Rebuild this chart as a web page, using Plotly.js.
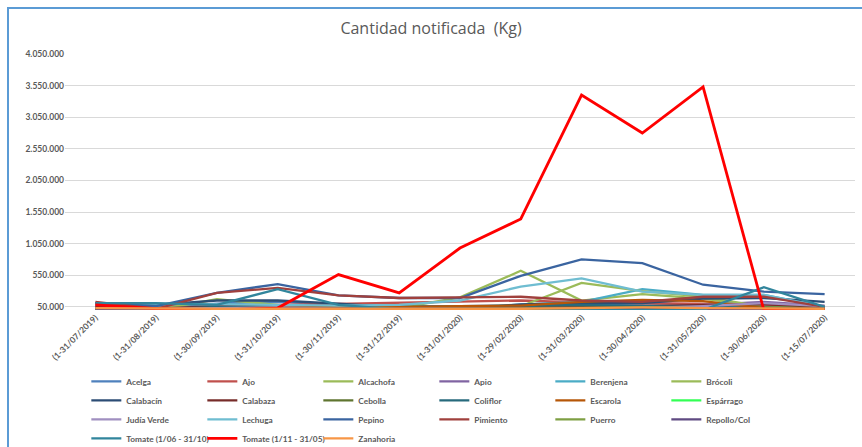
<!DOCTYPE html>
<html>
<head>
<meta charset="utf-8">
<script src="https://cdn.plot.ly/plotly-3.0.1.min.js"></script>
<style>
html,body{margin:0;padding:0;background:#fff;}
#wrap{position:relative;width:862px;height:447px;overflow:hidden;}
#chart{width:862px;height:447px;}
#frame{position:absolute;left:7px;top:7px;width:900px;height:500px;border-left:2px solid #5B9BD5;border-top:2px solid #5B9BD5;pointer-events:none;}
</style>
</head>
<body>
<div id="wrap"><div id="chart"></div><div id="frame"></div></div>
<script>
const categories = ["(1-31/07/2019)","(1-31/08/2019)","(1-30/09/2019)","(1-31/10/2019)","(1-30/11/2019)","(1-31/12/2019)","(1-31/01/2020)","(1-29/02/2020)","(1-31/03/2020)","(1-30/04/2020)","(1-31/05/2020)","(1-30/06/2020)","(1-15/07/2020)"];

const acelga      = [100000, 40000, 100000, 130000, 90000, 60000, 60000, 80000, 90000, 70000, 60000, 60000, 50000];
const ajo         = [60000, 30000, 60000, 80000, 90000, 120000, 140000, 150000, 120000, 110000, 100000, 90000, 40000];
const alcachofa   = [0, 0, 0, 0, 0, 30000, 200000, 620000, 150000, 250000, 180000, 50000, 0];
const apio        = [40000, 20000, 20000, 30000, 30000, 20000, 20000, 30000, 40000, 40000, 80000, 130000, 70000];
const berenjena   = [60000, 40000, 40000, 50000, 30000, 20000, 40000, 80000, 130000, 330000, 240000, 240000, 50000];
const brocoli     = [20000, 0, 170000, 80000, 40000, 20000, 60000, 60000, 430000, 300000, 210000, 50000, 30000];
const calabacin   = [100000, 80000, 150000, 150000, 100000, 40000, 10000, 90000, 110000, 110000, 180000, 190000, 130000];
const calabaza    = [50000, 20000, 60000, 70000, 50000, 30000, 30000, 40000, 60000, 60000, 80000, 90000, 50000];
const cebolla     = [10000, 0, 0, 10000, 10000, 0, 0, 10000, 20000, 20000, 30000, 40000, 30000];
const coliflor    = [20000, 10000, 50000, 60000, 70000, 50000, 50000, 60000, 80000, 60000, 40000, 30000, 20000];
const escarola    = [10000, 10000, 20000, 40000, 40000, 50000, 60000, 70000, 130000, 160000, 140000, 30000, 20000];
const esparrago   = [0, 0, 0, 0, 0, 0, 0, 0, 10000, 20000, 10000, 0, 0];
const judiaVerde  = [30000, 20000, 30000, 40000, 20000, 10000, 10000, 10000, 20000, 30000, 60000, 110000, 60000];
const lechuga     = [110000, 100000, 90000, 80000, 70000, 80000, 150000, 370000, 500000, 290000, 240000, 240000, 50000];
const pepino      = [110000, 60000, 270000, 410000, 230000, 190000, 190000, 540000, 800000, 740000, 400000, 290000, 250000];
const pimiento    = [130000, 20000, 270000, 350000, 230000, 190000, 200000, 210000, 150000, 130000, 210000, 210000, 50000];
const puerro      = [10000, 10000, 20000, 20000, 20000, 20000, 20000, 30000, 40000, 40000, 30000, 20000, 20000];
const repolloCol  = [20000, 10000, 10000, 20000, 20000, 10000, 10000, 10000, 10000, 10000, 10000, 10000, 20000];
const tomateVer   = [110000, 110000, 80000, 330000, 80000, 10000, 0, 0, 0, 0, 0, 360000, 50000];
const tomateInv   = [80000, 20000, 0, 30000, 560000, 270000, 980000, 1440000, 3400000, 2800000, 3530000, 0, 0];
const zanahoria   = [30000, 20000, 20000, 20000, 20000, 20000, 10000, 20000, 30000, 40000, 30000, 20000, 20000];

const seriesNames = ["Acelga","Ajo","Alcachofa","Apio","Berenjena","Brócoli","Calabacín","Calabaza","Cebolla","Coliflor","Escarola","Espárrago","Judía Verde","Lechuga","Pepino","Pimiento","Puerro","Repollo/Col","Tomate (1/06 - 31/10)","Tomate (1/11 - 31/05)","Zanahoria"];
const seriesValues = [acelga, ajo, alcachofa, apio, berenjena, brocoli, calabacin, calabaza, cebolla, coliflor, escarola, esparrago, judiaVerde, lechuga, pepino, pimiento, puerro, repolloCol, tomateVer, tomateInv, zanahoria];
const seriesColors = ["#4F81BD","#C0504D","#9BBB59","#8064A2","#4BACC6","#9BBB59","#2C4D75","#772C2A","#5F7530","#276A7C","#B65708","#33FF55","#A08FC0","#6FBDD1","#3A64A0","#A0403D","#7E9F43","#5F4A82","#31859C","#FF0000","#F79646"];

const traces = seriesNames.map((n, i) => ({
  type: 'scatter', mode: 'lines', name: n,
  x: categories, y: seriesValues[i],
  line: {color: seriesColors[i], width: (n === "Tomate (1/11 - 31/05)") ? 2.8 : 2.3}
}));

const yTickFont = {family: 'Lato, "Open Sans", sans-serif', size: 8.5, color: '#595959', weight: 'bold'};
const xTickFont = {family: '"Liberation Sans Narrow", Lato, sans-serif', size: 8.5, color: '#595959', weight: 'bold'};

const layout = {
  width: 862, height: 447,
  margin: {l: 65, r: 7, t: 54, b: 137, autoexpand: false},
  paper_bgcolor: '#fff', plot_bgcolor: '#fff',
  separators: ',.',
  showlegend: true,
  title: {text: 'Cantidad notificada  (Kg)', x: 0.5, xref: 'container', y: 0.936, yanchor: 'middle',
          font: {family: '"Open Sans", Lato, sans-serif', size: 16, color: '#595959'}},
  xaxis: {type: 'category', range: [-0.5, 12.5], showgrid: false, showline: false, zeroline: false, ticks: '',
          tickangle: -45, tickfont: xTickFont, automargin: false},
  yaxis: {range: [0, 4050000], tick0: 50000, dtick: 500000, tickformat: ',d',
          showgrid: true, gridcolor: '#D9D9D9', gridwidth: 1, zeroline: false, showline: false,
          ticks: '', tickfont: yTickFont, automargin: false},
  legend: {orientation: 'h', x: 0.027, xanchor: 'left', y: -0.222, yanchor: 'top',
           entrywidth: 71, entrywidthmode: 'pixels', tracegroupgap: 0, itemwidth: 30,
           font: {family: '"Liberation Sans Narrow", Lato, sans-serif', size: 8.3, color: '#595959', weight: 'bold'},
           bgcolor: 'rgba(0,0,0,0)'}
};

Plotly.newPlot('chart', traces, layout, {displayModeBar: false, staticPlot: true});
</script>
</body>
</html>
